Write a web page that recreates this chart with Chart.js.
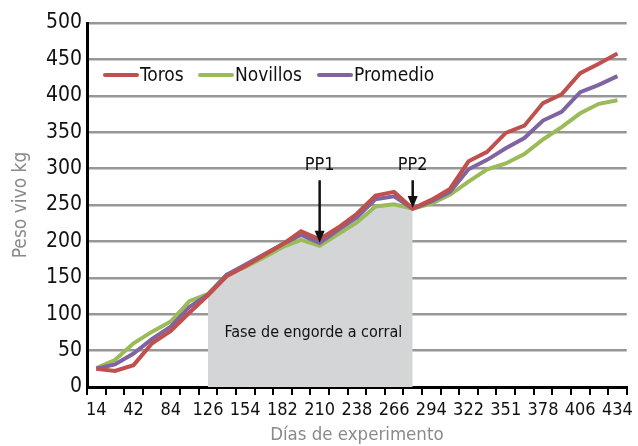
<!DOCTYPE html>
<html>
<head>
<meta charset="utf-8">
<script src="https://cdn.jsdelivr.net/npm/chart.js@4/dist/chart.umd.min.js"></script>
<style>
  html, body { margin: 0; padding: 0; background: #fff; }
  #wrap { width: 638px; height: 446px; }
</style>
</head>
<body>
<div id="wrap"><canvas id="pesoChart"></canvas></div>
<script>
// Days of experiment (category axis) - only every other one gets a label
const days = [14, 28, 42, 63, 84, 105, 126, 140, 154, 168, 182, 196, 210, 224, 238, 252, 266, 280, 294, 308, 322, 336, 351, 364, 378, 392, 406, 420, 434];

// Live weight, kg
const toros    = [25, 22, 30, 60, 77, 102, 126, 152, 166, 181, 196, 214, 203, 219, 238, 263, 268, 245, 257, 272, 310, 323, 349, 359, 390, 402, 431, 444, 458];
const novillos = [26, 37, 60, 76, 90, 118, 128, 154, 165, 178, 192, 202, 194, 210, 226, 248, 251, 245, 252, 264, 282, 299, 307, 320, 340, 357, 376, 389, 394];
const promedio = [25, 31, 46, 66, 83, 110, 127, 154, 168, 182, 196, 209, 198, 216, 233, 258, 262, 245, 255, 268, 299, 312, 328, 342, 366, 378, 405, 415, 427];

// Feedlot phase (shaded), from day 126 to day 280
const faseInicio = 6;
const faseFin = 17;
const fase = novillos.map((v, i) => (i >= faseInicio && i <= faseFin) ? v : null);

// Arrows PP1 / PP2
const marcas = [
    { label: 'PP1', index: 12, tip: 198 },
    { label: 'PP2', index: 17, tip: 246 }
];

const colors = {
    toros: '#c0504d',
    novillos: '#9bbb59',
    promedio: '#8064a2',
    fase: '#d4d5d7',
    grid: '#979797',
    title: '#8a8a8a'
};

const FONT = "'DejaVu Sans Condensed', 'DejaVu Sans', sans-serif";

// Legend drawn inside the plot area
const legendPlugin = {
    id: 'legendInside',
    afterDraw(chart) {
        const ctx = chart.ctx;
        const items = [
            { text: 'Toros', color: colors.toros, x: 105 },
            { text: 'Novillos', color: colors.novillos, x: 200 },
            { text: 'Promedio', color: colors.promedio, x: 319 }
        ];
        const y = 75;
        ctx.save();
        ctx.font = '19px ' + FONT;
        ctx.textBaseline = 'middle';
        ctx.fillStyle = '#111';
        items.forEach(it => {
            ctx.strokeStyle = it.color;
            ctx.lineWidth = 4;
            ctx.lineCap = 'round';
            ctx.beginPath();
            ctx.moveTo(it.x, y);
            ctx.lineTo(it.x + 32, y);
            ctx.stroke();
            ctx.fillText(it.text, it.x + 35, y + 1);
        });
        ctx.restore();
    }
};

// Arrows and phase label
const notesPlugin = {
    id: 'notes',
    afterDatasetsDraw(chart) {
        const ctx = chart.ctx;
        const xs = chart.scales.x;
        const ys = chart.scales.y;
        ctx.save();
        ctx.fillStyle = '#111';
        ctx.strokeStyle = '#111';

        // phase text
        ctx.font = '16px ' + FONT;
        ctx.textAlign = 'center';
        ctx.textBaseline = 'middle';
        const midX = (xs.getPixelForValue(faseInicio) + xs.getPixelForValue(faseFin)) / 2;
        ctx.fillText('Fase de engorde a corral', midX + 3, ys.getPixelForValue(75));

        marcas.forEach(m => {
            const x = xs.getPixelForValue(m.index);
            const yTop = ys.getPixelForValue(284);
            const yTip = ys.getPixelForValue(m.tip);
            ctx.font = '18px ' + FONT;
            ctx.fillText(m.label, x, ys.getPixelForValue(305));
            ctx.lineWidth = 2.5;
            ctx.beginPath();
            ctx.moveTo(x, yTop);
            ctx.lineTo(x, yTip - 10);
            ctx.stroke();
            ctx.beginPath();
            ctx.moveTo(x - 5, yTip - 12);
            ctx.lineTo(x + 5, yTip - 12);
            ctx.lineTo(x, yTip);
            ctx.closePath();
            ctx.fill();
        });
        ctx.restore();
    }
};

const lineStyle = {
    borderWidth: 4,
    pointRadius: 0,
    tension: 0,
    fill: false
};

new Chart(document.getElementById('pesoChart'), {
    type: 'line',
    data: {
        labels: days,
        datasets: [
            { label: 'Toros', data: toros, borderColor: colors.toros, order: 1, ...lineStyle },
            { label: 'Promedio', data: promedio, borderColor: colors.promedio, order: 2, ...lineStyle },
            { label: 'Novillos', data: novillos, borderColor: colors.novillos, order: 3, ...lineStyle },
            {
                label: 'Fase',
                data: fase,
                borderWidth: 0,
                pointRadius: 0,
                backgroundColor: colors.fase,
                fill: 'origin',
                order: 10,
                spanGaps: false
            }
        ]
    },
    options: {
        responsive: true,
        maintainAspectRatio: false,
        animation: false,
        layout: {
            padding: { top: 23, right: 7, left: 0, bottom: 0 }
        },
        plugins: {
            legend: { display: false },
            tooltip: { enabled: false }
        },
        scales: {
            x: {
                type: 'category',
                offset: true,
                afterFit(scale) { scale.height = 59; },
                grid: {
                    offset: true,
                    drawOnChartArea: false,
                    drawTicks: true,
                    tickLength: 8,
                    color: '#000',
                    lineWidth: 2
                },
                border: { display: true, color: '#000', width: 3 },
                ticks: {
                    autoSkip: false,
                    maxRotation: 0,
                    padding: 5,
                    color: '#111',
                    font: { family: FONT, size: 18 },
                    callback: function(value, index) {
                        return index % 2 === 0 ? days[index] : '';
                    }
                },
                title: {
                    display: true,
                    text: 'Días de experimento',
                    color: colors.title,
                    font: { family: FONT, size: 18.5 },
                    padding: { top: 0, bottom: 0 }
                }
            },
            y: {
                min: 0,
                max: 500,
                afterFit(scale) { scale.width = 87; },
                grid: {
                    color: colors.grid,
                    lineWidth: 2.5,
                    drawTicks: false
                },
                border: { display: true, color: '#000', width: 3 },
                ticks: {
                    stepSize: 50,
                    padding: 5,
                    color: '#111',
                    font: { family: FONT, size: 21 }
                },
                title: {
                    display: true,
                    text: 'Peso vivo kg',
                    color: colors.title,
                    font: { family: FONT, size: 19 },
                    padding: { top: 10, bottom: 0 }
                }
            }
        }
    },
    plugins: [legendPlugin, notesPlugin]
});
</script>
</body>
</html>
